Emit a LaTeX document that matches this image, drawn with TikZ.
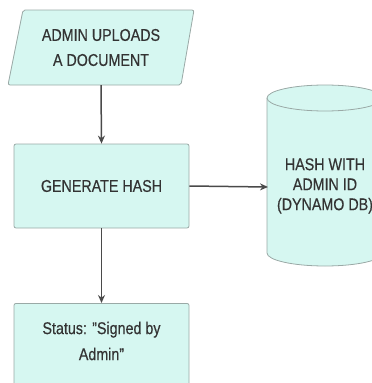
\documentclass[tikz,border=0pt]{standalone}
\usepackage{fontspec}
\setmainfont{Liberation Sans}[FakeStretch=0.84,FakeBold=0.4]
\usetikzlibrary{arrows.meta}
\definecolor{boxfill}{HTML}{D6F7F1}
\definecolor{boxline}{HTML}{9AA9A6}
\definecolor{txt}{HTML}{333333}
\definecolor{arr}{HTML}{4A4A4A}
\begin{document}
\begin{tikzpicture}[x=1pt,y=-1pt,
  shapeline/.style={draw=boxline,fill=boxfill,line width=0.8pt,rounded corners=2pt},
  lbl/.style={text=txt,font=\fontsize{17}{25}\selectfont,align=center,inner sep=0pt},
  conn/.style={draw=arr,line width=1.5pt,-{Stealth[length=8pt,width=7pt]}}]
\useasboundingbox (0,0) rectangle (372,383);
% parallelogram
\draw[shapeline] (23,10) -- (194,10) -- (181,85) -- (8,85) -- cycle;
\node[lbl,minimum width=170pt,minimum height=75pt] (up) at (101,47.5) {ADMIN UPLOADS\\A DOCUMENT};
% generate hash
\node[shapeline,lbl,minimum width=175pt,minimum height=84pt] (gen) at (101.5,186) {GENERATE HASH};
% status
\node[shapeline,lbl,minimum width=175pt,minimum height=100pt,anchor=north,text depth=0pt] (st) at (101.5,303) {};
\node[lbl,font=\fontsize{17}{26}\selectfont] (sttxt) at (101.5,341) {Status: "Signed by\\Admin"};
% cylinder
\draw[shapeline,rounded corners=0pt] (267,98) -- (267,253) arc[start angle=180,end angle=360,x radius=58,y radius=-13] -- (383,98);
\fill[boxfill] (325,98) ellipse[x radius=58,y radius=13];
\draw[draw=boxline,line width=0.8pt] (325,98) ellipse[x radius=58,y radius=13];
\node[lbl,font=\fontsize{17}{20}\selectfont] (db) at (325,186) {HASH WITH\\ADMIN ID\\(DYNAMO DB)};
\coordinate (dbin) at (268,187);
% connectors
\draw[conn] (up.south) -- (gen.north);
\draw[conn] (gen.south) -- (st.north);
\draw[conn] (gen.east) -- (dbin);
\end{tikzpicture}
\end{document}
